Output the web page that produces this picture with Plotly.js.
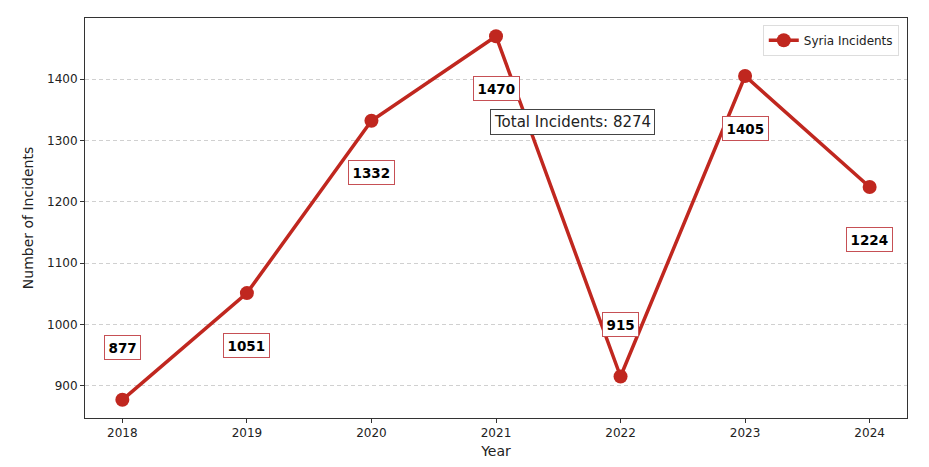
<!DOCTYPE html>
<html>
<head>
<meta charset="utf-8">
<script src="https://cdn.plot.ly/plotly-3.0.1.min.js"></script>
<style>html,body{margin:0;padding:0;background:#fff;}#chart{width:929px;height:467px;}</style>
</head>
<body>
<div id="chart"></div>
<script>
const years = [2018, 2019, 2020, 2021, 2022, 2023, 2024];
const incidents = [877, 1051, 1332, 1470, 915, 1405, 1224];
const labelAbove = [true, false, false, false, true, false, false];
const seriesName = 'Syria Incidents';
const total = incidents.reduce((a, b) => a + b, 0);

const color = '#c0271f';
const trace = {
  x: years, y: incidents, type: 'scatter', mode: 'lines+markers', name: seriesName,
  line: {color: color, width: 3.5},
  marker: {color: color, size: 14},
  cliponaxis: false
};

const annotations = years.map((yr, i) => ({
  x: yr, y: incidents[i], xref: 'x', yref: 'y',
  text: '<b>' + incidents[i] + '</b>', showarrow: false,
  yshift: labelAbove[i] ? 52 : -52,
  font: {family: 'DejaVu Sans', size: 13.5, color: '#000'},
  bgcolor: '#ffffff', bordercolor: '#c65055', borderwidth: 1, borderpad: 3.5
}));
annotations.push({
  xref: 'paper', yref: 'paper', x: 0.493, y: 0.74, xanchor: 'left', yanchor: 'middle',
  text: 'Total Incidents: ' + total, showarrow: false,
  font: {family: 'DejaVu Sans', size: 15, color: '#222'},
  bgcolor: '#ffffff', bordercolor: '#444', borderwidth: 1, borderpad: 3
});

const layout = {
  width: 929, height: 467,
  margin: {l: 85, r: 22, t: 18, b: 49},
  paper_bgcolor: '#fff', plot_bgcolor: '#fff',
  font: {family: 'DejaVu Sans', color: '#222'},
  showlegend: true,
  legend: {x: 0.99, y: 0.983, xanchor: 'right', yanchor: 'top',
    bgcolor: '#fff', bordercolor: '#ddd', borderwidth: 1,
    font: {family: 'DejaVu Sans', size: 12, color: '#222'}},
  xaxis: {
    range: [2017.7, 2024.3], tickvals: years, ticktext: years.map(String),
    showgrid: false, zeroline: false, showline: true, mirror: true,
    linecolor: '#333', linewidth: 1, ticks: 'outside', ticklen: 4, tickcolor: '#333',
    tickfont: {family: 'DejaVu Sans', size: 12, color: '#222'},
    title: {text: 'Year', font: {family: 'DejaVu Sans', size: 14, color: '#222'}, standoff: 6}
  },
  yaxis: {
    range: [847.35, 1499.65], tickvals: [900, 1000, 1100, 1200, 1300, 1400],
    showgrid: true, gridcolor: '#d0d0d0', griddash: '4px,3px', gridwidth: 1,
    zeroline: false, showline: true, mirror: true,
    linecolor: '#333', linewidth: 1, ticks: 'outside', ticklen: 4, tickcolor: '#333',
    tickfont: {family: 'DejaVu Sans', size: 12, color: '#222'},
    title: {text: 'Number of Incidents', font: {family: 'DejaVu Sans', size: 14, color: '#222'}, standoff: 10}
  },
  annotations: annotations
};

Plotly.newPlot('chart', [trace], layout, {displayModeBar: false, staticPlot: true});
</script>
</body>
</html>
